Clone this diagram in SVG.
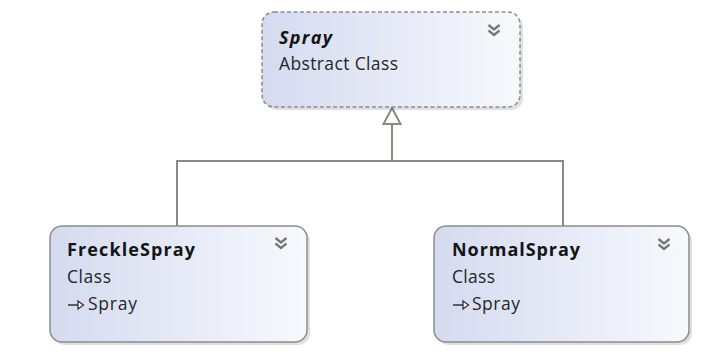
<svg xmlns="http://www.w3.org/2000/svg" width="726" height="353" viewBox="0 0 726 353">
<defs>
<linearGradient id="fill" x1="0" y1="0" x2="1" y2="0">
<stop offset="0" stop-color="#d4dbf0"/>
<stop offset="1" stop-color="#f8f9fd"/>
</linearGradient>
<g id="chev">
<polyline points="-5.5,-6 0,-1.5 5.5,-6" fill="none" stroke="#777" stroke-width="2.3"/>
<polyline points="-5.5,-0.5 0,4 5.5,-0.5" fill="none" stroke="#777" stroke-width="2.3"/>
</g>
<g id="inh">
<line x1="0" y1="0" x2="10" y2="0" stroke="#333" stroke-width="1.5"/>
<polygon points="10,-4 15.5,0 10,4" fill="#fff" stroke="#333" stroke-width="1.3"/>
</g>
</defs>
<style>
.shadow{fill:#000;opacity:0.12}
.box{fill:url(#fill);stroke:#8c8c8c;stroke-width:1.5}
.abs{stroke-dasharray:4 2.5}
.title{font-family:"Open Sans","Noto Sans",sans-serif;font-weight:bold;font-size:18px;fill:#141414}
.sub{font-family:"Open Sans","Noto Sans",sans-serif;font-size:17.5px;fill:#262626}
.conn{fill:none;stroke:#8a8a84;stroke-width:2}
</style>
<rect width="726" height="353" fill="#fff"/>
<g id="connectors">
<polyline class="conn" points="392,124 392,161"/>
<polyline class="conn" points="177,226 177,161 563,161 563,226"/>
<polygon points="392,108 383.5,124 400.5,124" fill="#fff" stroke="#8a8a84" stroke-width="2" stroke-linejoin="miter"/>
</g>
<g id="node-spray">
<rect class="shadow" x="265" y="15" width="258" height="95" rx="12"/>
<rect class="box abs" x="262" y="12" width="258" height="95" rx="12"/>
<text class="title" x="279" y="44" font-style="italic" textLength="53">Spray</text>
<text class="sub" x="279" y="70" textLength="119">Abstract Class</text>
<use href="#chev" x="494" y="31"/>
</g>
<g id="node-frecklespray">
<rect class="shadow" x="53" y="229" width="257" height="116" rx="12"/>
<rect class="box" x="50" y="226" width="257" height="116" rx="12"/>
<text class="title" x="67" y="256" textLength="128">FreckleSpray</text>
<text class="sub" x="67" y="283" textLength="44">Class</text>
<use href="#inh" x="68" y="305"/>
<text class="sub" x="88" y="310" textLength="49">Spray</text>
<use href="#chev" x="281" y="244"/>
</g>
<g id="node-normalspray">
<rect class="shadow" x="437" y="229" width="255" height="116" rx="12"/>
<rect class="box" x="434" y="226" width="255" height="116" rx="12"/>
<text class="title" x="452" y="256" textLength="128">NormalSpray</text>
<text class="sub" x="452" y="283" textLength="43">Class</text>
<use href="#inh" x="453" y="305"/>
<text class="sub" x="472" y="310" textLength="48">Spray</text>
<use href="#chev" x="664" y="245"/>
</g>
</svg>
